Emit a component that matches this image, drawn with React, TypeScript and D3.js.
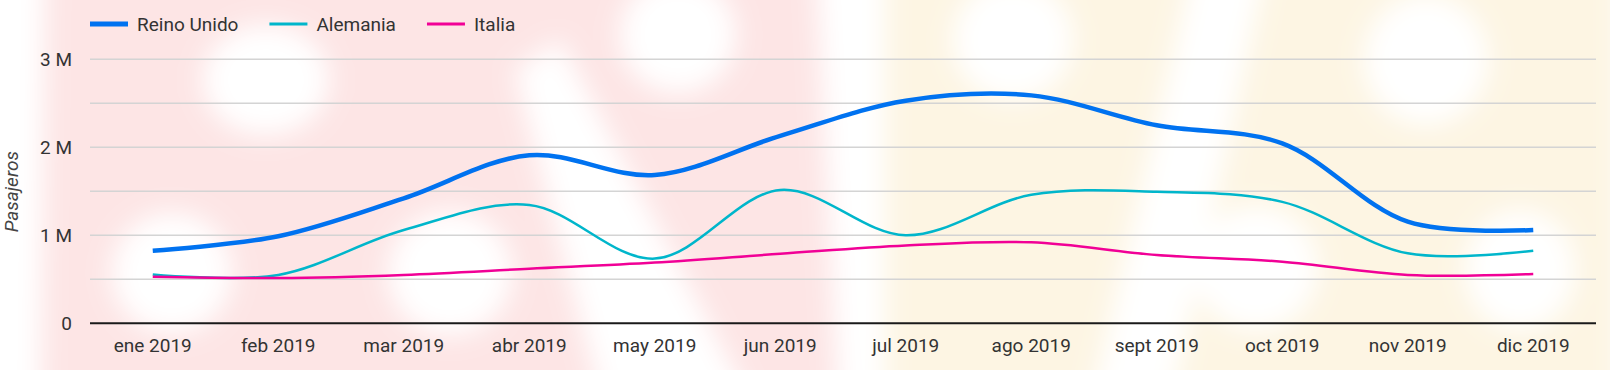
import React, { useEffect } from "react";
import * as d3 from "d3";

const months = ["ene 2019", "feb 2019", "mar 2019", "abr 2019", "may 2019", "jun 2019", "jul 2019", "ago 2019", "sept 2019", "oct 2019", "nov 2019", "dic 2019"];
const reinoUnido = [825000, 990000, 1420000, 1910000, 1685000, 2130000, 2530000, 2590000, 2250000, 2045000, 1155000, 1060000];
const alemania = [555000, 550000, 1060000, 1345000, 735000, 1515000, 1000000, 1460000, 1495000, 1380000, 795000, 825000];
const italia = [530000, 515000, 550000, 620000, 690000, 790000, 885000, 920000, 776000, 700000, 550000, 560000];
const seriesNames = ["Reino Unido", "Alemania", "Italia"];
const seriesColors = ["#0072f0", "#00b6cb", "#f10096"];
const seriesWidths = [4.5, 2.5, 2.5];
const gridTicks = [0, 500000, 1000000, 1500000, 2000000, 2500000, 3000000];
const labelTicks = [0, 1000000, 2000000, 3000000];

const W = 1610;
const H = 370;
const FONT = "Roboto, 'Noto Sans', sans-serif";

function measure(text: string, size: number) {
  const c = document.createElement("canvas").getContext("2d");
  if (!c) return text.length * size * 0.5;
  c.font = `${size}px Roboto`;
  return c.measureText(text).width;
}

export default function App() {
  useEffect(() => {
    document.body.style.margin = "0";
  }, []);

  const x = d3.scalePoint<string>().domain(months).range([90, 1596]).padding(0.5);
  const y = d3.scaleLinear().domain([0, 3000000]).range([323.3, 59.3]);
  const allSeries = [reinoUnido, alemania, italia];
  const line = d3
    .line<number>()
    .x((_, i) => x(months[i]) as number)
    .y((d) => y(d))
    .curve(d3.curveCatmullRom.alpha(0.5));

  const fmt = (v: number) => (v === 0 ? "0" : `${v / 1000000} M`);

  // legend layout
  let lx = 90;
  const legendItems = seriesNames.map((name, i) => {
    const item = { name, x: lx, color: seriesColors[i], w: seriesWidths[i] === 4.5 ? 5 : 3 };
    lx = lx + 47 + measure(name, 19) + 31;
    return item;
  });

  return (
    <svg width={W} height={H} style={{ display: "block" }} fontFamily={FONT}>
      <defs>
        <filter id="bgblur" x="-5%" y="-5%" width="110%" height="110%">
          <feGaussianBlur stdDeviation="13" />
        </filter>
      </defs>
      <g filter="url(#bgblur)">
        <rect x={-60} y={-60} width={W + 120} height={H + 120} fill="#ffffff" />
        <polygon points="45,-60 815,-60 840,430 40,430" fill="#fde5e5" />
        <polygon points="885,-60 1620,-60 1620,430 885,430" fill="#fdf5e3" />
        <polygon points="515,70 560,40 765,430 610,430" fill="#ffffff" />
        <polygon points="1200,-60 1272,-60 1165,430 1085,430" fill="#ffffff" />
        <ellipse cx={266} cy={80} rx={63} ry={55} fill="#ffffff" />
        <ellipse cx={678} cy={35} rx={58} ry={58} fill="#ffffff" />
        <ellipse cx={172} cy={273} rx={60} ry={60} fill="#ffffff" />
        <ellipse cx={450} cy={273} rx={62} ry={62} fill="#ffffff" />
        <ellipse cx={1013} cy={40} rx={60} ry={60} fill="#ffffff" />
        <ellipse cx={1426} cy={60} rx={62} ry={65} fill="#ffffff" />
        <ellipse cx={1256} cy={268} rx={62} ry={62} fill="#ffffff" />
        <ellipse cx={1520} cy={270} rx={55} ry={60} fill="#ffffff" />
      </g>

      {/* gridlines */}
      {gridTicks
        .filter((t) => t > 0)
        .map((t) => (
          <line key={t} x1={90} x2={1596} y1={y(t)} y2={y(t)} stroke="#d4d4d4" strokeWidth={1.5} />
        ))}
      <line x1={90} x2={1596} y1={y(0)} y2={y(0)} stroke="#1a1a1a" strokeWidth={2} />

      {/* y labels */}
      {labelTicks.map((t) => (
        <text key={t} x={72} y={y(t)} dy="0.36em" textAnchor="end" fontSize={19} fill="#333333">
          {fmt(t)}
        </text>
      ))}
      <text
        transform={`translate(17.5,191.7) rotate(-90)`}
        textAnchor="middle"
        fontSize={19}
        fontStyle="italic"
        fill="#444444"
      >
        Pasajeros
      </text>

      {/* x labels */}
      {months.map((m) => (
        <text key={m} x={x(m)} y={351.5} textAnchor="middle" fontSize={19} fill="#333333">
          {m}
        </text>
      ))}

      {/* lines */}
      {allSeries.map((s, i) => (
        <path
          key={seriesNames[i]}
          d={line(s) || ""}
          fill="none"
          stroke={seriesColors[i]}
          strokeWidth={seriesWidths[i]}
          strokeLinejoin="round"
        />
      ))}

      {/* legend */}
      {legendItems.map((it) => (
        <g key={it.name}>
          <line x1={it.x} x2={it.x + 38} y1={24} y2={24} stroke={it.color} strokeWidth={it.w} />
          <text x={it.x + 47} y={24} dy="0.36em" fontSize={19} fill="#333333">
            {it.name}
          </text>
        </g>
      ))}
    </svg>
  );
}
